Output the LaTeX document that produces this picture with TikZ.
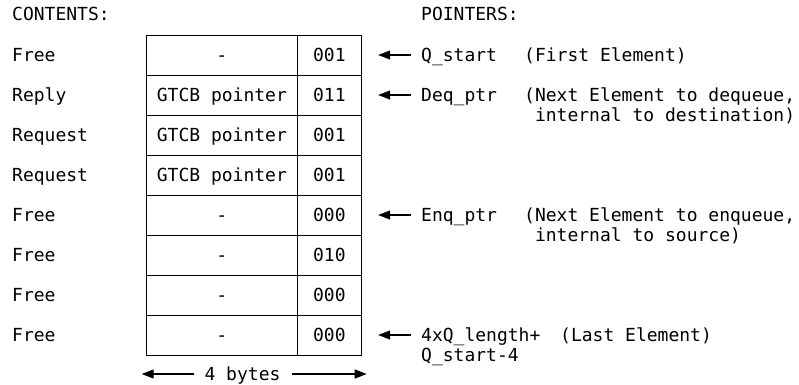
\documentclass[tikz,border=0pt]{standalone}
\usepackage{fontspec}
\setmonofont{DejaVu Sans Mono}
\usetikzlibrary{arrows.meta,positioning}

\begin{document}
\begin{tikzpicture}[x=1pt,y=-1pt,
                    every node/.style={font=\ttfamily\fontsize{18}{20}\selectfont,
                        inner sep=0pt, text height=13pt, text depth=0pt},
                    txt/.style={anchor=west},
                    cell/.style={draw, line width=0.9pt, minimum height=40pt},
                    ptr/.style={-{Triangle[length=12pt,width=9pt]}, line width=1.1pt}]
                    \useasboundingbox (0,0) rectangle (799,384);
                    \node[txt] (contents) at (12,14) {CONTENTS:};
                    \node[txt] (pointers) at (421,14) {POINTERS:};
                    \foreach \lab/\mid/\code [count=\i] in {Free/-/001, Reply/GTCB pointer/011,
                        Request/GTCB pointer/001, Request/GTCB pointer/001, Free/-/000,
                        Free/-/010, Free/-/000, Free/-/000}{
                        \node[txt] (l\i) at (12,15+40*\i) {\lab};
                        \node[cell, minimum width=150.3pt] (m\i) at (221.85,15+40*\i) {\mid};
                        \node[cell, minimum width=64.7pt] (r\i) at (329.35,15+40*\i) {\code};
                    }
                    \node[txt] (q1) at (421,55) {Q\_start};
                    \node[txt] (d1) at (524,55) {(First Element)};
                    \node[txt] (q2) at (421,95) {Deq\_ptr};
                    \node[txt] (d2) at (524,95) {(Next Element to dequeue,};
                    \node[txt] (d2b) at ([yshift=-20pt]d2.west) {\hphantom{(}internal to destination)};
                    \node[txt] (q5) at (421,215) {Enq\_ptr};
                    \node[txt] (d5) at (524,215) {(Next Element to enqueue,};
                    \node[txt] (d5b) at ([yshift=-20pt]d5.west) {\hphantom{(}internal to source)};
                    \node[txt] (q8) at (421,335) {4xQ\_length+};
                    \node[txt] (q8b) at ([yshift=-20pt]q8.west) {Q\_start-4};
                    \node[txt] (d8) at (560,335) {(Last Element)};
                    \foreach \i in {1,2,5,8}
                        \draw[ptr] ([xshift=-10pt]q\i.west) -- ([xshift=16pt]r\i.east);
                    \node (bytes) at (242.5,374) {4 bytes};
                    \coordinate (bl) at (141.7,374);
                    \coordinate (br) at (366.7,374);
                    \draw[ptr] ([xshift=-10pt]bytes.west) -- (bl);
                    \draw[ptr] ([xshift=11pt]bytes.east) -- (br);
                \end{tikzpicture}
\end{document}
